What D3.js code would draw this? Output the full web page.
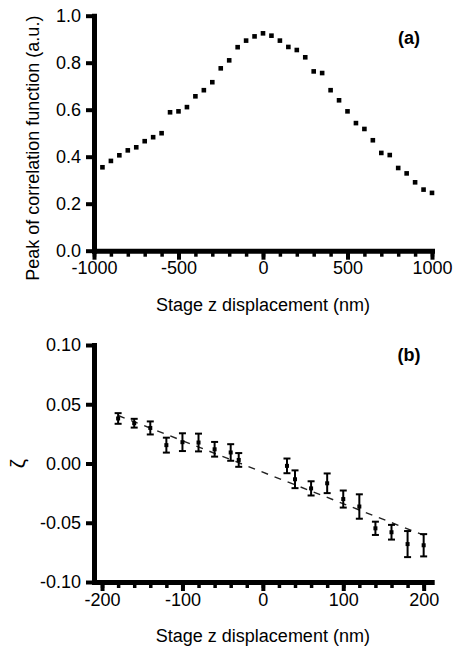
<!DOCTYPE html>
<html>
<head>
<meta charset="utf-8">
<script src="https://cdn.jsdelivr.net/npm/d3@7"></script>
<style>
  body { margin: 0; background: #fff; }
  text { font-family: "Liberation Sans", Arial, sans-serif; fill: #000; }
</style>
</head>
<body>
<svg id="fig" width="459" height="651"></svg>
<script>
"use strict";

// panel (a): peak of correlation function vs stage z displacement
const a_x = [-950, -900, -850, -800, -750, -700, -650, -600, -550, -500,
  -450, -400, -350, -300, -250, -200, -150, -100, -50, 0,
  50, 100, 150, 200, 250, 300, 350, 400, 450, 500,
  550, 600, 650, 700, 750, 800, 850, 900, 950, 1000];
const a_y = [0.355, 0.382, 0.406, 0.427, 0.440, 0.466, 0.483, 0.500, 0.589, 0.593,
  0.611, 0.657, 0.683, 0.717, 0.776, 0.810, 0.866, 0.894, 0.912, 0.925,
  0.915, 0.894, 0.867, 0.854, 0.823, 0.763, 0.756, 0.683, 0.640, 0.593,
  0.543, 0.518, 0.470, 0.416, 0.407, 0.352, 0.329, 0.291, 0.260, 0.246];
const a_xticks = [-1000, -500, 0, 500, 1000];
const a_yticks = [0, 0.2, 0.4, 0.6, 0.8, 1.0];

// panel (b): zeta vs stage z displacement, with error bars and linear fit
const b_x = [-180, -160, -140, -120, -100, -80, -60, -40, -30,
  30, 40, 60, 80, 100, 120, 140, 160, 180, 200];
const b_y = [0.038, 0.034, 0.030, 0.0155, 0.018, 0.0177, 0.012, 0.0093, 0.003,
  -0.002, -0.0133, -0.021, -0.0167, -0.030, -0.0363, -0.0547, -0.058, -0.068, -0.069];
const b_err = [0.0045, 0.0037, 0.0055, 0.0063, 0.0075, 0.0075, 0.0062, 0.007, 0.0058,
  0.0062, 0.0075, 0.006, 0.0083, 0.0072, 0.0103, 0.0056, 0.0062, 0.011, 0.0094];
const fit_x = [-180, 200];
const fit_y = [0.0405, -0.0605];
const b_xticks = [-200, -100, 0, 100, 200];
const b_yticks = [-0.10, -0.05, 0.00, 0.05, 0.10];

const svg = d3.select("#fig");

// draws axes, titles and panel label for one panel
const draw_axes = (g, x, y, xticks, xminor, yticks, yfmt, xtitle, ytitle, ytitle_x, ytitle_dy, ytitle_size, label, label_y) => {
  const y0 = y.range()[0];
  const x0 = x.range()[0];

  // minor x ticks
  g.append("g")
    .attr("transform", `translate(0,${y0})`)
    .call(d3.axisBottom(x).tickValues(xminor).tickSize(6).tickFormat(""))
    .call(s => s.select(".domain").remove())
    .call(s => s.selectAll("line").attr("stroke-width", 3.5));

  const gx = g.append("g")
    .attr("transform", `translate(0,${y0})`)
    .call(d3.axisBottom(x).tickValues(xticks).tickSize(9).tickSizeOuter(0).tickFormat(d3.format("d")));
  gx.select(".domain").attr("stroke-width", 5).attr("stroke-linecap", "square");
  gx.selectAll("line").attr("stroke-width", 4);
  gx.selectAll("text").attr("font-size", 18).attr("dy", "0.71em").attr("y", 11).text(d => d3.format("d")(d).replace("−", "-"));

  const gy = g.append("g")
    .attr("transform", `translate(${x0},0)`)
    .call(d3.axisLeft(y).tickValues(yticks).tickSize(8).tickSizeOuter(0).tickPadding(5));
  gy.select(".domain").attr("stroke-width", 5).attr("stroke-linecap", "square");
  gy.selectAll("line").attr("stroke-width", 4);
  gy.selectAll("text").attr("font-size", 18).text(d => yfmt(d).replace("−", "-"));

  g.selectAll(".tick text").attr("fill", "#000");

  g.append("text")
    .attr("x", (x.range()[0] + x.range()[1]) / 2)
    .attr("y", y0 + 60)
    .attr("text-anchor", "middle")
    .attr("font-size", 18)
    .text(xtitle);

  g.append("text")
    .attr("transform", `translate(${ytitle_x},${(y.range()[0] + y.range()[1]) / 2 + ytitle_dy}) rotate(-90)`)
    .attr("text-anchor", "middle")
    .attr("font-size", ytitle_size)
    .text(ytitle);

  g.append("text")
    .attr("x", 409)
    .attr("y", label_y)
    .attr("text-anchor", "middle")
    .attr("font-size", 18)
    .attr("font-weight", "bold")
    .text(label);
};

// ---- panel (a)
const xa = d3.scaleLinear().domain([-1000, 1000]).range([94, 432]);
const ya = d3.scaleLinear().domain([0, 1]).range([250.7, 15.7]);
const ga = svg.append("g");

draw_axes(ga, xa, ya, a_xticks, d3.range(-1000, 1001, 100), a_yticks, d3.format(".1f"),
  "Stage z displacement (nm)", "Peak of correlation function (a.u.)", 39, 15, 18, "(a)", 44);

const ms_a = 4.6;
ga.append("g")
  .selectAll("rect")
  .data(a_x)
  .join("rect")
  .attr("x", (d) => xa(d) - ms_a / 2)
  .attr("y", (d, i) => ya(a_y[i]) - ms_a / 2)
  .attr("width", ms_a)
  .attr("height", ms_a)
  .attr("fill", "#000");

// ---- panel (b)
const xb = d3.scaleLinear().domain([-210, 210]).range([94, 431.7]);
const yb = d3.scaleLinear().domain([-0.1, 0.1]).range([582, 345]);
const gb = svg.append("g");

draw_axes(gb, xb, yb, b_xticks, d3.range(-200, 201, 20), b_yticks, d3.format(".2f"),
  "Stage z displacement (nm)", "\u03B6", 25, 0, 21, "(b)", 361);

// linear fit, dashed
gb.append("path")
  .datum(fit_x.map((d, i) => [d, fit_y[i]]))
  .attr("d", d3.line().x(d => xb(d[0])).y(d => yb(d[1])))
  .attr("fill", "none")
  .attr("stroke", "#222")
  .attr("stroke-width", 1.4)
  .attr("stroke-dasharray", "7,7");

const cap = 3.5;
const eb = gb.append("g")
  .selectAll("g")
  .data(b_x)
  .join("g")
  .attr("stroke", "#000")
  .attr("stroke-width", 2);

eb.append("line")
  .attr("x1", d => xb(d)).attr("x2", d => xb(d))
  .attr("y1", (d, i) => yb(b_y[i] + b_err[i]))
  .attr("y2", (d, i) => yb(b_y[i] - b_err[i]));
eb.append("line")
  .attr("x1", d => xb(d) - cap).attr("x2", d => xb(d) + cap)
  .attr("y1", (d, i) => yb(b_y[i] + b_err[i]))
  .attr("y2", (d, i) => yb(b_y[i] + b_err[i]));
eb.append("line")
  .attr("x1", d => xb(d) - cap).attr("x2", d => xb(d) + cap)
  .attr("y1", (d, i) => yb(b_y[i] - b_err[i]))
  .attr("y2", (d, i) => yb(b_y[i] - b_err[i]));

const ms_b = 4;
gb.append("g")
  .selectAll("rect")
  .data(b_x)
  .join("rect")
  .attr("x", (d) => xb(d) - ms_b / 2)
  .attr("y", (d, i) => yb(b_y[i]) - ms_b / 2)
  .attr("width", ms_b)
  .attr("height", ms_b)
  .attr("fill", "#000");
</script>
</body>
</html>
